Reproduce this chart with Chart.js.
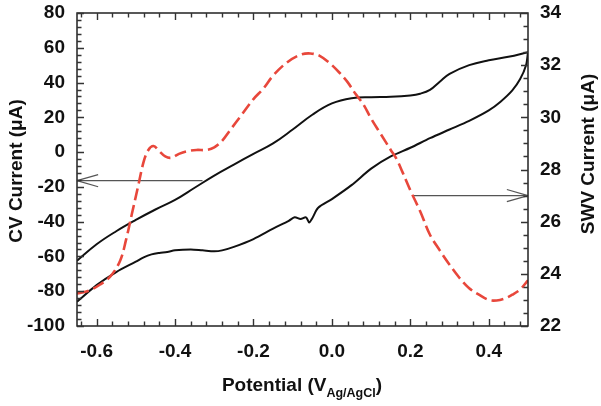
<!DOCTYPE html>
<html>
<head>
<meta charset="utf-8">
<script src="https://cdn.jsdelivr.net/npm/chart.js@4.4.1/dist/chart.umd.min.js"></script>
<style>
  html, body { margin: 0; padding: 0; background: #fff; }
</style>
</head>
<body>
<canvas id="chart" width="601" height="406"></canvas>
<script>
// CV sweep, forward branch (upper curve), µA vs V
const cvUpperPotential = [-0.65, -0.60, -0.55, -0.50, -0.45, -0.40, -0.35, -0.30, -0.25, -0.20, -0.15, -0.10, -0.05, 0.00, 0.05, 0.10, 0.15, 0.20, 0.225, 0.25, 0.275, 0.30, 0.35, 0.40, 0.45, 0.50];
const cvUpperCurrent = [-62.5, -53, -45.5, -39, -33, -27.5, -20.5, -13.5, -7.2, -1, 5, 13, 21.5, 28, 31, 31.6, 31.8, 32.6, 33.6, 35.8, 40.5, 45, 50, 52.8, 54.8, 57.5];

// CV sweep, reverse branch (lower curve)
const cvLowerPotential = [0.50, 0.495, 0.48, 0.46, 0.43, 0.40, 0.35, 0.30, 0.25, 0.20, 0.15, 0.10, 0.05, 0.00, -0.035, -0.05, -0.058, -0.066, -0.08, -0.095, -0.11, -0.15, -0.20, -0.25, -0.28, -0.30, -0.33, -0.36, -0.40, -0.42, -0.44, -0.46, -0.48, -0.50, -0.55, -0.60, -0.65];
const cvLowerCurrent = [57.5, 50, 42, 35.5, 29, 24, 18, 13, 8, 2.5, -2.5, -9.5, -19, -27, -32, -38, -40.5, -37.5, -38.5, -37.5, -39.5, -44, -50, -54.5, -56.5, -57, -56.5, -56, -56.5, -57.5, -58, -58.8, -60.5, -63, -69, -76.5, -86];

// SWV trace (right axis)
const swvPotential = [-0.65, -0.62, -0.59, -0.565, -0.54, -0.525, -0.51, -0.495, -0.48, -0.468, -0.455, -0.44, -0.425, -0.41, -0.39, -0.37, -0.345, -0.32, -0.30, -0.28, -0.26, -0.23, -0.20, -0.175, -0.15, -0.115, -0.08, -0.055, -0.03, -0.005, 0.02, 0.04, 0.06, 0.08, 0.10, 0.125, 0.15, 0.165, 0.18, 0.20, 0.225, 0.25, 0.275, 0.30, 0.325, 0.35, 0.375, 0.40, 0.42, 0.44, 0.46, 0.48, 0.50];
const swvCurrent = [23.25, 23.35, 23.6, 23.9, 24.5, 25.3, 26.3, 27.3, 28.3, 28.75, 28.9, 28.7, 28.5, 28.45, 28.6, 28.7, 28.75, 28.75, 28.85, 29.1, 29.5, 30.1, 30.7, 31.1, 31.6, 32.1, 32.4, 32.45, 32.35, 32.07, 31.7, 31.35, 30.9, 30.5, 29.95, 29.35, 28.75, 28.4, 27.9, 27.2, 26.4, 25.5, 24.9, 24.35, 23.85, 23.45, 23.2, 23.0, 22.98, 23.05, 23.2, 23.4, 23.75];

// axis pointers
const cvArrowPotential = [-0.33, -0.65];
const cvArrowCurrent = [-16.4, -16.4];
const swvArrowPotential = [0.205, 0.5];
const swvArrowCurrent = [27.0, 27.0];

// tick labels
const potentialTicks = [-0.6, -0.4, -0.2, 0.0, 0.2, 0.4];
const cvTicks = [-100, -80, -60, -40, -20, 0, 20, 40, 60, 80];
const swvTicks = [22, 24, 26, 28, 30, 32, 34];

const FONT = "'Liberation Sans', Arial, Helvetica, sans-serif";
const INK = "#111";

const pts = (xs, ys) => xs.map((x, i) => ({ x, y: ys[i] }));

// box frame + inward minor/major ticks on all sides
const frameTicks = {
  id: "frameTicks",
  afterDraw(chart) {
    const { ctx, chartArea: a, scales } = chart;
    ctx.save();
    ctx.strokeStyle = "#222";
    ctx.lineWidth = 1.5;
    ctx.strokeRect(a.left, a.top, a.right - a.left, a.bottom - a.top);
    ctx.lineWidth = 1.4;
    ctx.strokeStyle = "#333";
    ctx.beginPath();
    for (let i = -16; i <= 12; i++) {
      const px = Math.round(scales.x.getPixelForValue(i * 0.04)) + 0.5;
      const len = i % 5 === 0 ? 7 : 4.5;
      ctx.moveTo(px, a.bottom); ctx.lineTo(px, a.bottom - len);
      ctx.moveTo(px, a.top); ctx.lineTo(px, a.top + len);
    }
    for (let i = -25; i <= 20; i++) {
      const py = Math.round(scales.y.getPixelForValue(i * 4)) + 0.5;
      const len = i % 5 === 0 ? 7 : 4.5;
      ctx.moveTo(a.left, py); ctx.lineTo(a.left + len, py);
    }
    for (let i = 44; i <= 68; i++) {
      const py = Math.round(scales.y2.getPixelForValue(i * 0.5)) + 0.5;
      const len = i % 4 === 0 ? 7 : 4.5;
      ctx.moveTo(a.right, py); ctx.lineTo(a.right - len, py);
    }
    ctx.stroke();
    ctx.restore();
  }
};

// open V heads at the end of the pointer lines
const arrowHeads = {
  id: "arrowHeads",
  afterDatasetsDraw(chart) {
    const ctx = chart.ctx;
    chart.data.datasets.forEach((ds, i) => {
      if (!ds.arrowHead) return;
      const d = chart.getDatasetMeta(i).data;
      const tip = d[d.length - 1], prev = d[d.length - 2];
      const ang = Math.atan2(tip.y - prev.y, tip.x - prev.x);
      ctx.save();
      ctx.strokeStyle = ds.borderColor;
      ctx.lineWidth = ds.borderWidth;
      ctx.beginPath();
      [0.28, -0.28].forEach((s) => {
        ctx.moveTo(tip.x, tip.y);
        ctx.lineTo(tip.x - 22 * Math.cos(ang + s), tip.y - 22 * Math.sin(ang + s));
      });
      ctx.stroke();
      ctx.restore();
    });
  }
};

// axis titles (right one reads bottom-to-top, x title has a subscript)
const axisTitles = {
  id: "axisTitles",
  afterDraw(chart) {
    const ctx = chart.ctx;
    ctx.save();
    ctx.fillStyle = INK;
    ctx.font = "bold 19px " + FONT;
    ctx.textAlign = "center";
    ctx.textBaseline = "middle";

    ctx.save();
    ctx.translate(17, 171);
    ctx.rotate(-Math.PI / 2);
    ctx.fillText("CV Current (\u03bcA)", 0, 0);
    ctx.restore();

    ctx.save();
    ctx.translate(589, 154);
    ctx.rotate(-Math.PI / 2);
    ctx.fillText("SWV Current (\u03bcA)", 0, 0);
    ctx.restore();

    const main = "Potential (V", sub = "Ag/AgCl", close = ")";
    const mainFont = "bold 19px " + FONT, subFont = "bold 12.5px " + FONT;
    ctx.textAlign = "left";
    ctx.textBaseline = "alphabetic";
    ctx.font = mainFont;
    const w1 = ctx.measureText(main).width, w3 = ctx.measureText(close).width;
    ctx.font = subFont;
    const w2 = ctx.measureText(sub).width;
    let x = 302 - (w1 + w2 + w3) / 2;
    const base = 391;
    ctx.font = mainFont; ctx.fillText(main, x, base); x += w1;
    ctx.font = subFont; ctx.fillText(sub, x, base + 6); x += w2;
    ctx.font = mainFont; ctx.fillText(close, x, base);
    ctx.restore();
  }
};

const tickFont = { family: FONT, size: 19, weight: "bold" };
const noVPad = (s, w) => { s.width = w; s.paddingTop = 0; s.paddingBottom = 0; };

new Chart(document.getElementById("chart"), {
  type: "line",
  data: {
    datasets: [
      {
        label: "SWV",
        data: pts(swvPotential, swvCurrent),
        yAxisID: "y2",
        borderColor: "#e8473b",
        borderWidth: 2.6,
        borderDash: [12, 5],
        tension: 0.35,
        pointRadius: 0
      },
      {
        label: "CV forward",
        data: pts(cvUpperPotential, cvUpperCurrent),
        yAxisID: "y",
        borderColor: INK,
        borderWidth: 2,
        tension: 0.4,
        pointRadius: 0
      },
      {
        label: "CV reverse",
        data: pts(cvLowerPotential, cvLowerCurrent),
        yAxisID: "y",
        borderColor: INK,
        borderWidth: 2,
        tension: 0.3,
        pointRadius: 0
      },
      {
        label: "CV axis pointer",
        data: pts(cvArrowPotential, cvArrowCurrent),
        yAxisID: "y",
        borderColor: "#555",
        borderWidth: 1.2,
        pointRadius: 0,
        arrowHead: true
      },
      {
        label: "SWV axis pointer",
        data: pts(swvArrowPotential, swvArrowCurrent),
        yAxisID: "y2",
        borderColor: "#555",
        borderWidth: 1.2,
        pointRadius: 0,
        arrowHead: true
      }
    ]
  },
  options: {
    responsive: false,
    devicePixelRatio: 1,
    animation: false,
    layout: { padding: { top: 13, left: 0, right: 0, bottom: 0 } },
    plugins: { legend: { display: false }, tooltip: { enabled: false } },
    scales: {
      x: {
        type: "linear",
        min: -0.65,
        max: 0.5,
        grid: { display: false, drawTicks: false },
        border: { display: false },
        afterBuildTicks: (s) => { s.ticks = potentialTicks.map((v) => ({ value: v })); },
        afterFit: (s) => { s.height = 80; s.paddingLeft = 0; s.paddingRight = 0; },
        ticks: {
          autoSkip: false,
          maxRotation: 0,
          padding: 14,
          color: INK,
          font: tickFont,
          callback: (v) => Number(v).toFixed(1)
        }
      },
      y: {
        position: "left",
        min: -100,
        max: 80,
        grid: { display: false, drawTicks: false },
        border: { display: false },
        afterBuildTicks: (s) => { s.ticks = cvTicks.map((v) => ({ value: v })); },
        afterFit: (s) => noVPad(s, 77),
        ticks: { autoSkip: false, padding: 12, color: INK, font: tickFont }
      },
      y2: {
        position: "right",
        min: 22,
        max: 34,
        grid: { display: false, drawTicks: false },
        border: { display: false },
        afterBuildTicks: (s) => { s.ticks = swvTicks.map((v) => ({ value: v })); },
        afterFit: (s) => noVPad(s, 73),
        ticks: { autoSkip: false, padding: 12, color: INK, font: tickFont }
      }
    }
  },
  plugins: [frameTicks, arrowHeads, axisTitles]
});
</script>
</body>
</html>
